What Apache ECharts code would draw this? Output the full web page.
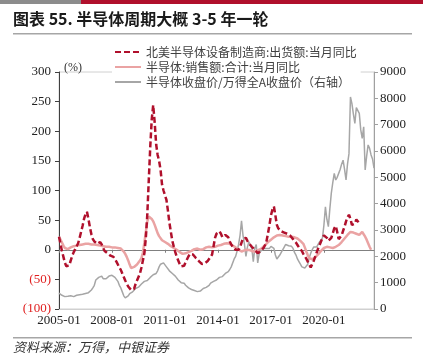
<!DOCTYPE html>
<html><head><meta charset="utf-8">
<script src="https://cdn.jsdelivr.net/npm/echarts@6/dist/echarts.min.js"></script>
<style>html,body{margin:0;padding:0;background:#fff}#c{width:423px;height:361px}</style>
</head><body><div id="c"></div>
<script>
// Month categories 2005-01 .. 2022-11
const startYear = 2005, monthCount = 215;
const months = [];
for (let i = 0; i < monthCount; i++) {
  const y = startYear + Math.floor(i / 12), m = (i % 12) + 1;
  months.push(y + '-' + (m < 10 ? '0' + m : m));
}
const seriesNames = ['北美半导体设备制造商:出货额:当月同比', '半导体:销售额:合计:当月同比', '半导体收盘价/万得全A收盘价（右轴）'];
const leftTicks = [-100, -50, 0, 50, 100, 150, 200, 250, 300];
const rightTicks = [0, 1000, 2000, 3000, 4000, 5000, 6000, 7000, 8000, 9000];

// 北美半导体设备制造商 出货额 同比 (%), 2005-01 .. 2022-01
const equipYoY = [22,10,-2,-12,-22,-28,-30,-26,-18,-10,-4,1,6,11,20,30,40,52,60,64,52,38,26,18,14,12,10,11,13,9,3,-2,-5,-6,-8,-10,-11,-12,-16,-20,-25,-30,-34,-40,-46,-52,-57,-62,-65,-68,-71,-66,-58,-52,-46,-40,-30,-18,-6,20,60,118,174,220,244,215,178,160,150,135,110,100,92,84,66,46,30,15,5,-4,-12,-18,-24,-28,-31,-27,-21,-16,-11,-7,-6,-8,-11,-14,-16,-19,-22,-24,-24,-23,-21,-19,-16,-12,-8,6,20,27,30,31,27,21,20,25,27,21,14,9,5,2,0,1,0,4,12,19,22,20,15,11,9,5,2,0,-3,-6,-5,-2,0,3,8,15,28,42,58,68,73,58,42,36,33,31,30,29,28,27,26,24,22,18,15,12,8,4,1,-2,-7,-11,-15,-20,-25,-30,-27,-19,-12,-5,2,8,14,20,24,25,20,15,14,20,28,36,40,30,18,15,24,32,39,48,55,59,52,42,39,44,51,48,45];

// 半导体 销售额 同比 (%), 2005-01 .. 2022-09
const salesYoY = [22,17,12,7,3,0,1,3,4,5,6,7,7,8,8,9,9,10,10,10,10,10,9,9,9,8,8,7,7,6,6,6,5,5,5,4,4,4,4,3,3,2,2,0,-3,-7,-12,-18,-25,-31,-30,-29,-28,-25,-22,-18,-14,-5,12,30,48,56,55,52,48,42,35,28,23,20,16,14,13,11,10,8,6,4,3,1,0,-2,-4,-6,-7,-7,-6,-5,-4,-3,-2,0,1,2,2,1,0,0,1,3,4,5,5,4,4,5,5,6,7,8,8,9,10,11,11,11,10,9,7,5,4,2,0,-2,-3,-2,-1,0,0,0,-1,-2,-3,-3,-2,-1,0,1,3,5,8,10,13,15,17,19,21,23,24,25,25,25,24,24,23,23,22,22,22,21,21,20,19,17,15,13,10,4,-3,-9,-14,-15,-16,-15,-13,-11,-8,-5,-2,1,3,4,5,5,4,3,3,4,5,6,8,10,13,16,19,22,25,28,30,30,29,28,27,26,25,27,30,27,22,17,11,5,0];

// 半导体收盘价/万得全A收盘价 (右轴), 2005-01 .. 2022-11
const relPrice = [600,560,520,490,470,470,480,500,500,480,470,490,520,530,540,550,560,575,590,600,620,660,720,800,900,1100,1150,1200,1150,1250,1150,1100,1150,1200,1250,1200,1280,1290,1200,1150,1050,900,800,650,500,420,450,500,580,600,650,700,780,850,830,900,950,1000,1050,1100,1080,1150,1200,1250,1300,1300,1350,1450,1600,1700,1650,1750,1680,1600,1550,1450,1400,1350,1300,1250,1200,1100,1050,1000,1020,980,900,850,800,780,740,720,700,690,660,650,680,720,780,800,820,850,900,980,1000,1050,1080,1100,1150,1200,1180,1230,1300,1350,1400,1420,1500,1600,1650,1900,2000,2200,2450,2800,3350,2800,2450,2000,2350,2550,2600,2300,1800,2300,2450,1750,2100,2200,2250,2300,2250,2300,2350,2300,2380,2350,2300,2050,1900,1950,2050,2150,2200,2350,2450,2480,2400,2350,2380,2300,2150,2050,1900,1800,1700,1600,1550,1560,1600,1700,1950,2120,2250,2350,2420,2350,2450,2550,2620,2700,3200,3880,3400,3130,3800,4400,4800,5150,4900,5000,5150,5300,5500,5650,5300,4900,5500,5900,8050,7800,7400,7050,7650,7600,7430,6800,6480,6920,5280,5800,6230,6100,5850,5700,5350];

const serif = '"Liberation Serif","DejaVu Serif",serif';
const cjk = '"Noto Sans CJK SC","Noto Sans",sans-serif';

const chart = echarts.init(document.getElementById('c'));
chart.setOption({
  animation: false,
  backgroundColor: '#fff',
  graphic: [
    {type:'rect', shape:{x:0,y:0,width:81,height:4}, style:{fill:'#8c8c8c'}},
    {type:'rect', shape:{x:81,y:0,width:342,height:4}, style:{fill:'#b0102c'}},
    {type:'text', left:13, top:11, style:{text:'图表 55. 半导体周期大概 3-5 年一轮', font:'bold 16px ' + cjk, fill:'#1a1a1a'}},
    {type:'rect', shape:{x:13,y:33,width:399,height:1.5}, style:{fill:'#a6a6a6'}},
    {type:'rect', shape:{x:13,y:337,width:399,height:1.5}, style:{fill:'#a6a6a6'}},
    {type:'text', left:13, top:341, style:{text:'资料来源：万得，中银证券', font:'italic 13px ' + cjk, fill:'#333'}},
    {type:'text', left:64, top:62, z:10, style:{text:'(%)', font:'12px ' + serif, fill:'#333'}}
  ],
  legend: {
    data: seriesNames,
    orient: 'vertical',
    left: 112, top: 44,
    itemWidth: 26, itemHeight: 8, itemGap: 3,
    backgroundColor: '#fff',
    padding: [2, 4, 2, 2],
    itemStyle: {color: 'rgba(0,0,0,0)', borderColor: 'rgba(0,0,0,0)', borderWidth: 0},
    textStyle: {fontFamily: cjk, fontSize: 12, color: '#404040'}
  },
  grid: {left: 59, right: 49, top: 72, bottom: 52, show: true, borderColor: '#d0d0d0', borderWidth: 1, containLabel: false},
  xAxis: [{
    type: 'category', data: months, boundaryGap: false,
    axisLine: {onZero: false, lineStyle: {color: '#d0d0d0'}},
    axisTick: {show: false},
    axisLabel: {interval: 35, fontFamily: serif, fontSize: 13, color: '#222', margin: 5},
    splitLine: {show: false}
  }, {
    type: 'category', data: months, boundaryGap: false, position: 'top',
    axisLine: {onZero: true, onZeroAxisIndex: 0, lineStyle: {color: '#808080', width: 1}},
    axisTick: {show: true, inside: true, interval: 35, length: 3, lineStyle: {color: '#808080'}},
    axisLabel: {show: false},
    splitLine: {show: false}
  }],
  yAxis: [{
    type: 'value', min: -100, max: 300, interval: 50,
    axisLine: {show: true, lineStyle: {color: '#404040'}},
    axisTick: {show: true, length: 4, lineStyle: {color: '#404040'}},
    splitLine: {show: false},
    axisLabel: {
      fontFamily: serif, fontSize: 13, margin: 8,
      formatter: v => v < 0 ? '(' + Math.abs(v) + ')' : String(v),
      color: v => (Number(v) < 0 ? '#e02020' : '#222')
    }
  }, {
    type: 'value', min: 0, max: 9000, interval: 1000, position: 'right',
    axisLine: {show: true, lineStyle: {color: '#a0a0a0'}},
    axisTick: {show: true, length: 4, lineStyle: {color: '#a0a0a0'}},
    splitLine: {show: false},
    axisLabel: {fontFamily: serif, fontSize: 13, color: '#222', margin: 6, formatter: v => String(v)}
  }],
  series: [{
    name: seriesNames[2], type: 'line', xAxisIndex: 0, yAxisIndex: 1, data: relPrice,
    symbol: 'none', lineStyle: {color: '#a6a6a6', width: 1.5}, itemStyle: {color: '#a6a6a6'}
  }, {
    name: seriesNames[1], type: 'line', xAxisIndex: 0, yAxisIndex: 0, data: salesYoY,
    symbol: 'none', lineStyle: {color: '#eaa3a3', width: 2.5}, itemStyle: {color: '#eaa3a3'}
  }, {
    name: seriesNames[0], type: 'line', xAxisIndex: 0, yAxisIndex: 0, data: equipYoY,
    symbol: 'none', lineStyle: {color: '#b0102c', width: 2.5, type: [6, 3]}, itemStyle: {color: '#b0102c'}
  }]
});
</script></body></html>
